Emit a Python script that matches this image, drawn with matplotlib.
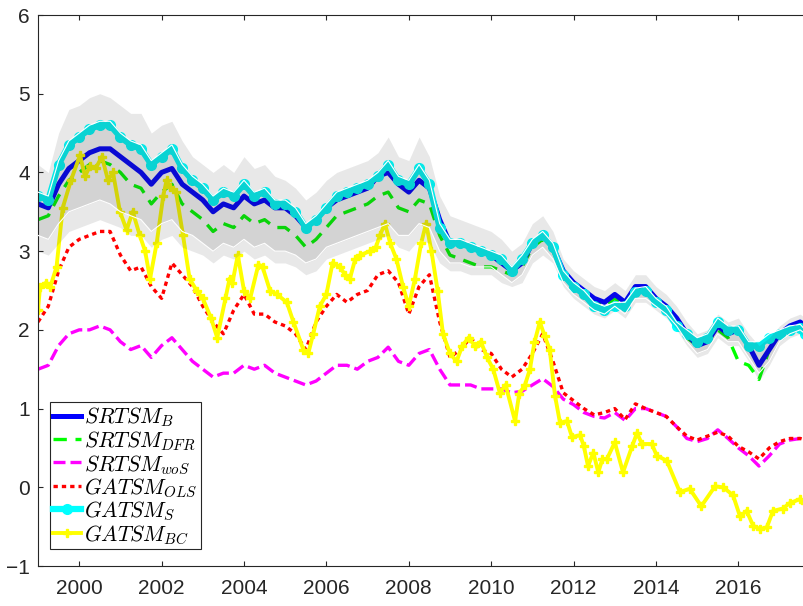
import numpy as np
import matplotlib.pyplot as plt

plt.rcParams['font.family'] = ['Liberation Sans', 'DejaVu Sans']
plt.rcParams['mathtext.fontset'] = 'cm'

# quarterly grid (last point = end of sample)
qx = np.append(np.arange(1999.0, 2017.51, 0.25), 2017.62)

# one row per year: Q1..Q4 (2017 row ends with the final observation)
srtsm_b = [3.6, 3.55, 3.85, 4.05,
           4.15, 4.25, 4.3, 4.3,
           4.2, 4.1, 4.0, 3.85,
           4.0, 4.05, 3.85, 3.75,
           3.65, 3.5, 3.6, 3.55,
           3.7, 3.6, 3.65, 3.55,
           3.55, 3.45, 3.3, 3.4,
           3.55, 3.65, 3.7, 3.75,
           3.8, 3.95, 4.0, 3.85,
           3.75, 3.9, 3.8, 3.4,
           3.1, 3.1, 3.05, 3.0,
           2.95, 2.85, 2.75, 2.85,
           3.1, 3.2, 3.05, 2.75,
           2.6, 2.5, 2.4, 2.35,
           2.45, 2.35, 2.55, 2.55,
           2.4, 2.3, 2.15, 1.95,
           1.8, 1.85, 2.05, 1.95,
           2.0, 1.8, 1.55, 1.75,
           1.95, 2.05, 2.1, 2.05]

srtsm_dfr = [3.4, 3.45, 3.7, 3.9,
             4.0, 4.1, 4.15, 4.1,
             4.0, 3.85, 3.8, 3.6,
             3.75, 3.85, 3.6, 3.5,
             3.4, 3.25, 3.35, 3.3,
             3.45, 3.35, 3.4, 3.3,
             3.3, 3.2, 3.05, 3.15,
             3.3, 3.45, 3.5, 3.55,
             3.6, 3.7, 3.75, 3.55,
             3.5, 3.65, 3.6, 3.2,
             2.95, 2.9, 2.85, 2.8,
             2.8, 2.75, 2.7, 2.8,
             3.05, 3.15, 3.0, 2.7,
             2.55, 2.45, 2.35, 2.3,
             2.4, 2.3, 2.5, 2.5,
             2.35, 2.25, 2.1, 1.9,
             1.8, 1.85, 2.0, 1.9,
             1.6, 1.55, 1.37, 1.75,
             1.95, 2.0, 2.05, 2.0]

srtsm_wos = [1.5, 1.55, 1.8, 1.95,
             2.0, 2.0, 2.05, 2.0,
             1.85, 1.75, 1.8, 1.65,
             1.8, 1.9, 1.75, 1.6,
             1.5, 1.4, 1.45, 1.45,
             1.55, 1.5, 1.55, 1.45,
             1.4, 1.35, 1.3, 1.35,
             1.45, 1.55, 1.55, 1.5,
             1.6, 1.65, 1.78, 1.6,
             1.55, 1.7, 1.75, 1.5,
             1.3, 1.3, 1.3, 1.25,
             1.25, 1.25, 1.2, 1.22,
             1.3, 1.38, 1.28, 1.12,
             1.05, 0.95, 0.9, 0.88,
             0.95, 0.85, 1.0, 1.0,
             0.95, 0.9, 0.77, 0.62,
             0.58, 0.62, 0.73, 0.62,
             0.5, 0.4, 0.27, 0.4,
             0.55, 0.6, 0.62, 0.58]

gatsm_ols = [2.1, 2.3, 2.75, 3.05,
             3.15, 3.2, 3.25, 3.25,
             2.95, 2.75, 2.8, 2.55,
             2.4, 2.85, 2.7, 2.55,
             2.3, 2.1, 1.95, 2.25,
             2.45, 2.2, 2.2, 2.1,
             2.05, 1.95, 1.75, 2.1,
             2.3, 2.45, 2.35, 2.45,
             2.5, 2.7, 2.75, 2.6,
             2.2, 2.55, 2.7, 2.1,
             1.65, 1.75, 1.9, 1.75,
             1.7, 1.5, 1.4, 1.5,
             1.7, 1.95, 1.6, 1.2,
             1.1, 1.0, 0.92, 0.95,
             1.0, 0.86, 1.06, 1.0,
             0.95, 0.9, 0.77, 0.65,
             0.6, 0.65, 0.7, 0.65,
             0.52, 0.45, 0.36, 0.5,
             0.58, 0.62, 0.62, 0.6]

gatsm_s = [3.7, 3.65, 4.1, 4.35,
           4.45, 4.55, 4.6, 4.6,
           4.45, 4.35, 4.3, 4.1,
           4.2, 4.3, 4.05, 3.9,
           3.8, 3.65, 3.75, 3.7,
           3.85, 3.7, 3.75, 3.6,
           3.6, 3.5, 3.3, 3.4,
           3.55, 3.7, 3.75, 3.8,
           3.85, 3.95, 4.1, 3.9,
           3.85, 4.05, 3.85, 3.3,
           3.1, 3.1, 3.05, 3.0,
           2.95, 2.9, 2.75, 2.9,
           3.1, 3.2, 3.05, 2.7,
           2.55, 2.45, 2.3, 2.25,
           2.3, 2.3, 2.48, 2.5,
           2.35, 2.25, 2.05, 1.95,
           1.85, 1.9, 2.1, 2.0,
           2.0, 1.8, 1.8, 1.9,
           1.95, 2.0, 2.02, 1.95]

# bands around SRTSM_B
outer_hi = [4.1, 4.0, 4.5, 4.8,
            4.85, 4.95, 5.0, 4.95,
            4.85, 4.75, 4.75, 4.5,
            4.6, 4.65, 4.4, 4.2,
            4.1, 4.0, 4.1, 4.0,
            4.2, 4.05, 4.1, 3.95,
            3.9, 3.8, 3.65, 3.75,
            3.9, 4.0, 4.05, 4.1,
            4.15, 4.25, 4.45, 4.2,
            4.15, 4.45, 4.2, 3.7,
            3.45, 3.4, 3.35, 3.3,
            3.25, 3.15, 3.0, 3.1,
            3.35, 3.45, 3.25, 2.9,
            2.75, 2.65, 2.55, 2.5,
            2.6, 2.5, 2.7, 2.7,
            2.55, 2.45, 2.3, 2.1,
            1.95, 2.0, 2.2, 2.1,
            2.15, 1.95, 1.8, 1.9,
            2.05, 2.15, 2.2, 2.15]

inner_hi = [3.75, 3.7, 4.15, 4.4,
            4.5, 4.6, 4.65, 4.65,
            4.5, 4.4, 4.35, 4.15,
            4.25, 4.35, 4.1, 3.95,
            3.85, 3.7, 3.8, 3.75,
            3.9, 3.75, 3.8, 3.65,
            3.65, 3.55, 3.35, 3.45,
            3.6, 3.75, 3.8, 3.85,
            3.9, 4.0, 4.15, 3.95,
            3.9, 4.1, 3.9, 3.35,
            3.15, 3.15, 3.1, 3.05,
            3.0, 2.95, 2.8, 2.95,
            3.15, 3.25, 3.1, 2.75,
            2.6, 2.5, 2.35, 2.3,
            2.35, 2.35, 2.53, 2.55,
            2.4, 2.3, 2.1, 2.0,
            1.9, 1.95, 2.15, 2.05,
            2.05, 1.85, 1.85, 1.95,
            2.0, 2.05, 2.07, 2.0]

inner_lo = [3.2, 3.15, 3.35, 3.5,
            3.55, 3.6, 3.65, 3.6,
            3.5, 3.45, 3.4, 3.25,
            3.35, 3.4, 3.25, 3.2,
            3.1, 3.0, 3.1, 3.05,
            3.15, 3.05, 3.1, 3.0,
            3.0, 2.95, 2.85, 2.9,
            3.05, 3.1, 3.15, 3.2,
            3.25, 3.3, 3.35, 3.2,
            3.2, 3.35, 3.3, 3.0,
            2.85, 2.85, 2.8, 2.8,
            2.8, 2.7, 2.6, 2.7,
            2.95, 3.05, 2.9, 2.6,
            2.45, 2.35, 2.25, 2.2,
            2.3, 2.2, 2.4, 2.4,
            2.3, 2.2, 2.05, 1.85,
            1.7, 1.75, 1.95, 1.85,
            1.85, 1.65, 1.45, 1.6,
            1.85, 1.95, 2.0, 1.95]

outer_lo = [3.0, 2.95, 3.1, 3.25,
            3.3, 3.35, 3.4, 3.35,
            3.3, 3.2, 3.2, 3.05,
            3.15, 3.2, 3.05, 3.0,
            2.95, 2.85, 2.95, 2.9,
            3.0, 2.9, 2.95, 2.85,
            2.85, 2.8, 2.7, 2.75,
            2.9, 2.95, 3.0, 3.05,
            3.1, 3.15, 3.2, 3.05,
            3.0, 3.15, 3.1, 2.85,
            2.75, 2.75, 2.7, 2.7,
            2.7, 2.6, 2.55, 2.6,
            2.85, 2.95, 2.85, 2.55,
            2.4, 2.3, 2.2, 2.15,
            2.25, 2.15, 2.35, 2.35,
            2.25, 2.15, 2.0, 1.8,
            1.65, 1.7, 1.9, 1.8,
            1.8, 1.6, 1.35, 1.55,
            1.8, 1.9, 1.95, 1.9]

# GATSM_BC is much more jagged, so it gets its own dates
bc_x = [1999.0, 1999.05, 1999.2, 1999.3, 1999.45, 1999.6, 1999.8, 2000.02, 2000.14,
        2000.26, 2000.4, 2000.55, 2000.7, 2000.82, 2000.99, 2001.15, 2001.3, 2001.47,
        2001.6, 2001.72, 2001.88, 2002.04, 2002.12, 2002.2, 2002.35, 2002.52, 2002.68,
        2002.85, 2003.0, 2003.2, 2003.35, 2003.55, 2003.65, 2003.72, 2003.85, 2004.0,
        2004.15, 2004.35, 2004.45, 2004.63, 2004.8, 2005.04, 2005.2, 2005.44, 2005.56,
        2005.68, 2005.84, 2006.0, 2006.15, 2006.33, 2006.45, 2006.57, 2006.7, 2006.82,
        2007.06, 2007.2, 2007.3, 2007.42, 2007.55, 2007.7, 2007.86, 2008.0, 2008.15,
        2008.3, 2008.42, 2008.55, 2008.7, 2008.83, 2009.0, 2009.16, 2009.3, 2009.45,
        2009.6, 2009.75, 2009.9, 2010.05, 2010.21, 2010.35, 2010.58, 2010.68, 2010.82,
        2010.94, 2011.05, 2011.18, 2011.3, 2011.42, 2011.55, 2011.67, 2011.84, 2011.96,
        2012.16, 2012.25, 2012.35, 2012.48, 2012.6, 2012.7, 2012.81, 2013.0, 2013.2,
        2013.42, 2013.54, 2013.66, 2013.9, 2014.02, 2014.26, 2014.58, 2014.82, 2015.1,
        2015.43, 2015.63, 2015.87, 2016.04, 2016.2, 2016.36, 2016.52, 2016.69, 2016.84,
        2017.08, 2017.25, 2017.5, 2017.62]
bc_y = [2.25, 2.55, 2.6, 2.55, 2.8, 3.55, 3.9, 4.22, 3.95,
        4.08, 4.05, 4.2, 3.9, 4.0, 3.5, 3.27, 3.5, 3.2,
        3.0, 2.65, 3.1, 3.7, 3.9, 3.82, 3.75, 3.2, 2.65,
        2.5, 2.4, 2.15, 1.9, 2.4, 2.65, 2.6, 2.95, 2.5,
        2.4, 2.83, 2.8, 2.5, 2.45, 2.35, 2.1, 1.75, 1.7,
        1.95, 2.3, 2.45, 2.85, 2.8, 2.7, 2.65, 2.9, 2.95,
        3.0, 3.05, 3.2, 3.35, 3.1, 2.9, 2.55, 2.3, 2.65,
        3.1, 3.35, 3.0, 2.5, 1.95, 1.7, 1.6, 1.8, 1.9,
        1.8, 1.85, 1.65, 1.5, 1.2, 1.3, 0.84, 1.19, 1.3,
        1.5, 1.84, 2.1, 1.92, 1.75, 1.16, 0.82, 0.84, 0.64,
        0.66, 0.52, 0.27, 0.44, 0.19, 0.36, 0.36, 0.57, 0.19,
        0.52, 0.69, 0.55, 0.55, 0.4, 0.34, -0.06, -0.02, -0.24,
        0.01, 0.0, -0.1, -0.37, -0.3, -0.49, -0.53, -0.51, -0.3,
        -0.27, -0.2, -0.15, -0.2]

fig = plt.figure(figsize=(8.04, 6.06), dpi=100)
ax = fig.add_axes([38/804, 40/606, 770/804, 551/606])

l_dfr, = ax.plot(qx, srtsm_dfr, color='#00ff00', lw=2.4, dashes=(4, 2.6), zorder=2)
l_b, = ax.plot(qx, srtsm_b, color='#0000ff', lw=3.6, zorder=2)
l_wos, = ax.plot(qx, srtsm_wos, color='#ff00ff', lw=2.4, dashes=(3.6, 1.5), zorder=2)
l_ols, = ax.plot(qx, gatsm_ols, color='#ff0000', lw=2.4, dashes=(1.3, 1.2), zorder=2)
l_s, = ax.plot(qx, gatsm_s, color='#00ffff', lw=4.5, marker='o', ms=7, zorder=2)
l_bc, = ax.plot(bc_x, bc_y, color='#ffff00', lw=2.8, marker='P', ms=5.5, zorder=2)

# shaded intervals drawn on top, semi transparent
ax.fill_between(qx, outer_lo, outer_hi, color=(0.19, 0.19, 0.19), alpha=0.11, lw=0, zorder=3)
ax.fill_between(qx, inner_lo, inner_hi, color=(0.19, 0.19, 0.19), alpha=0.11, lw=0, zorder=3)
ax.plot(qx, inner_lo, color='white', lw=0.8, zorder=4)
ax.plot(qx, inner_hi, color='white', lw=0.8, zorder=4)

ax.set_xlim(1999.0, 2017.69)
ax.set_ylim(-1, 6)
ax.set_xticks(range(2000, 2017, 2))
ax.set_yticks(range(-1, 7))
ax.tick_params(direction='in', top=True, right=False, length=3.6, width=0.8,
               labelsize=15, labelcolor='#262626', color='#262626')
ax.tick_params(axis='x', pad=9)
ax.tick_params(axis='y', pad=6)
for s in ['left', 'top', 'bottom']:
    ax.spines[s].set_color('#262626')
    ax.spines[s].set_linewidth(0.8)
ax.spines['right'].set_visible(False)

leg = ax.legend([l_b, l_dfr, l_wos, l_ols, l_s, l_bc],
                [r'$SRTSM_B$', r'$SRTSM_{DFR}$', r'$SRTSM_{woS}$',
                 r'$GATSM_{OLS}$', r'$GATSM_S$', r'$GATSM_{BC}$'],
                loc='upper left', bbox_to_anchor=(12/770, 164/551), borderaxespad=0,
                fontsize=15.5, handlelength=1.3, handletextpad=0.15, labelspacing=0.02,
                borderpad=0.15, fancybox=False, framealpha=1, edgecolor='#262626')
leg.get_frame().set_linewidth(0.8)
leg.set_zorder(10)

fig.savefig('out.png', dpi=100)
